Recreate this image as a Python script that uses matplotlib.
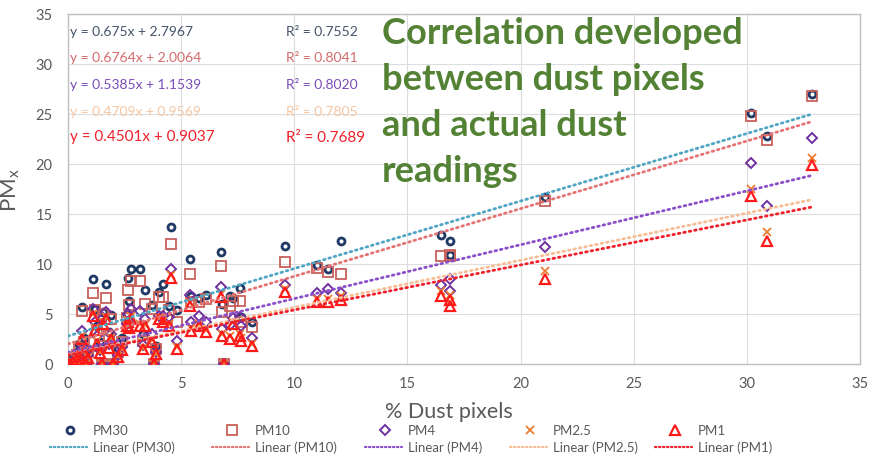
import matplotlib
matplotlib.use("Agg")
import matplotlib.pyplot as plt
from matplotlib.lines import Line2D
import numpy as np

plt.rcParams['font.family'] = ['Lato', 'DejaVu Sans']
plt.rcParams['mathtext.default'] = 'regular'

# ---- data: % dust pixels per image and matching PM readings ----
dust_pct = [0.0, 0.1, 0.3, 0.5, 0.8, 1.5, 2.0, 3.8, 6.9,
            0.2, 0.4, 0.5, 0.6, 0.7, 0.9, 1.1, 1.2, 1.3, 1.4, 1.55, 1.7, 1.8, 1.9,
            2.2, 2.4, 2.6, 2.65, 2.7, 2.8, 3.2, 3.3, 3.4, 3.7, 3.9, 4.0, 4.2, 4.45,
            4.57, 4.8, 5.4, 5.45, 5.8, 6.1, 6.75, 6.8, 7.15, 7.3, 7.6, 7.65, 8.15,
            9.6, 11.0, 11.5, 12.05, 16.5, 16.9, 16.9, 21.1, 30.2, 30.9, 32.9]
pm30 = [0, 0, 0, 0, 0, 0, 0, 0, 0,
        0.6, 1.2, 2.0, 5.7, 2.6, 1.5, 8.5, 5.5, 3.8, 2.2, 5.2, 8.0, 3.2, 4.9,
        1.5, 2.6, 5.0, 8.6, 6.3, 9.5, 9.5, 3.0, 7.4, 5.9, 1.8, 7.2, 8.0, 5.8,
        13.7, 5.4, 10.5, 6.8, 6.6, 6.9, 11.2, 6.0, 6.8, 6.6, 7.6, 4.7, 4.2,
        11.8, 9.9, 9.5, 12.3, 12.9, 12.3, 10.9, 16.7, 25.1, 22.8, 27.0]
pm10 = [0, 0, 0, 0, 0, 0, 0, 0, 0,
        0.4, 0.9, 1.6, 5.3, 2.2, 1.2, 7.1, 5.4, 3.4, 1.8, 5.0, 6.6, 2.8, 4.5,
        1.2, 2.2, 4.6, 7.4, 5.9, 8.3, 8.3, 2.3, 6.0, 5.5, 1.5, 6.7, 6.7, 5.4,
        12.0, 4.2, 9.0, 6.2, 6.2, 6.5, 9.8, 5.2, 5.8, 6.3, 6.3, 4.2, 3.7,
        10.2, 9.6, 9.2, 9.0, 10.8, 10.9, 10.8, 16.3, 24.8, 22.4, 26.8]
pm4 = [0, 0, 0, 0, 0, 0, 0, 0, 0,
       0.3, 0.7, 1.2, 3.3, 1.6, 0.9, 5.5, 4.2, 2.8, 1.4, 4.6, 5.2, 2.0, 3.0,
       0.9, 1.7, 4.0, 5.0, 4.3, 5.5, 5.3, 1.9, 4.5, 3.0, 1.2, 4.8, 4.8, 4.7,
       9.5, 2.3, 6.9, 4.2, 4.8, 4.2, 7.7, 3.5, 3.9, 4.6, 4.7, 3.8, 2.6,
       7.9, 7.1, 7.5, 7.1, 7.9, 8.5, 7.3, 11.7, 20.1, 15.8, 22.6]
pm25 = [0, 0, 0, 0, 0, 0, 0, 0, 0,
        0.2, 0.5, 1.0, 2.8, 1.3, 0.7, 5.0, 3.6, 2.3, 1.2, 4.2, 4.7, 1.8, 2.6,
        0.8, 1.5, 3.9, 4.4, 3.8, 4.8, 4.0, 1.6, 3.9, 2.4, 1.0, 4.6, 4.3, 4.0,
        8.9, 1.7, 6.2, 3.6, 4.0, 3.4, 7.0, 3.0, 2.8, 4.2, 3.0, 2.6, 2.0,
        7.5, 6.5, 6.5, 6.8, 7.3, 6.9, 6.2, 9.3, 17.5, 13.2, 20.6]
pm1 = [0, 0, 0, 0, 0, 0, 0, 0, 0,
       0.2, 0.4, 0.9, 2.5, 1.2, 0.6, 4.8, 3.4, 2.0, 1.1, 4.0, 4.5, 1.6, 2.5,
       0.7, 1.4, 3.8, 4.2, 3.6, 4.5, 3.8, 1.5, 3.8, 2.2, 1.0, 4.5, 4.2, 3.8,
       8.6, 1.5, 5.8, 3.3, 3.8, 3.2, 6.7, 2.8, 2.5, 4.0, 2.8, 2.3, 1.8,
       7.2, 6.2, 6.2, 6.4, 6.8, 6.4, 5.8, 8.5, 16.8, 12.3, 19.9]

series_names = ["PM30", "PM10", "PM4", "PM2.5", "PM1"]
series_values = [pm30, pm10, pm4, pm25, pm1]

# linear trendline coefficients and fit quality
slopes = [0.675, 0.6764, 0.5385, 0.4709, 0.4501]
intercepts = [2.7967, 2.0064, 1.1539, 0.9569, 0.9037]
r_squared = [0.7552, 0.8041, 0.8020, 0.7805, 0.7689]

axis_ticks = [0, 5, 10, 15, 20, 25, 30, 35]

title_lines = ["Correlation developed", "between dust pixels",
               "and actual dust", "readings"]

# ---- styling ----
marker_styles = [
    dict(marker='o', ms=5.0, mew=2.0, mec='#1F3864'),
    dict(marker='s', ms=7.0, mew=1.3, mec='#C9605C'),
    dict(marker='D', ms=5.5, mew=1.4, mec='#7030A0'),
    dict(marker='x', ms=6.0, mew=1.3, mec='#ED7D31'),
    dict(marker='^', ms=7.5, mew=1.6, mec='#FF1A1A'),
]
trend_colors = ['#4FA6C4', '#E57373', '#8A4FC8', '#F7BE96', '#F0202A']
label_colors = ['#44546A', '#D36B6B', '#7B4DB8', '#F6C6A2', '#F0202A']
label_sizes = [10, 10, 10, 10, 11]
text_gray = '#595959'

W, H = 872, 456
ax_left, ax_right, ax_top, ax_bottom = 68, 860, 15, 365
fig = plt.figure(figsize=(W / 100, H / 100), dpi=100)
ax = fig.add_axes([ax_left / W, (H - ax_bottom) / H,
                   (ax_right - ax_left) / W, (ax_bottom - ax_top) / H])


def fig_xy(px, py):
    return px / W, 1 - py / H


# scatter series
for vals, st in zip(series_values, marker_styles):
    ax.plot(dust_pct, vals, linestyle='none', mfc='none', zorder=3, **st)

# trendlines from the fitted coefficients
x_fit = np.array([0.0, max(dust_pct)])
for m, b, c in zip(slopes, intercepts, trend_colors):
    ax.plot(x_fit, m * x_fit + b, color=c, lw=2.0,
            linestyle=(0, (0.6, 1.4)), dash_capstyle='round', zorder=4)

ax.set_xlim(0, 35)
ax.set_ylim(0, 35)
ax.set_xticks(axis_ticks)
ax.set_yticks(axis_ticks)
ax.grid(True, color='#DDDDDD', lw=0.8)
ax.set_axisbelow(True)
for sp in ax.spines.values():
    sp.set_color('#BFBFBF')
    sp.set_linewidth(1.0)
ax.tick_params(axis='both', length=0, labelsize=10.5, labelcolor=text_gray)
ax.tick_params(axis='y', pad=11)
ax.tick_params(axis='x', pad=9)

ax.set_xlabel('% Dust pixels', fontsize=15.5, color=text_gray)
ax.xaxis.set_label_coords((449 - ax_left) / (ax_right - ax_left), -0.105)
ax.set_ylabel(r'PM$_\mathregular{x}$', fontsize=16, color=text_gray)
ax.yaxis.set_label_coords(-0.058, 0.5)

# trendline equations
eq_rows = [32.5, 58.5, 85.0, 111.5, 137.5]
for i in range(5):
    fig.text(*fig_xy(70, eq_rows[i]),
             f"y = {slopes[i]:g}x + {intercepts[i]:.4f}",
             color=label_colors[i], fontsize=label_sizes[i], va='center', ha='left')
    fig.text(*fig_xy(286, eq_rows[i]), f"R² = {r_squared[i]:.4f}",
             color=label_colors[i], fontsize=label_sizes[i], va='center', ha='left')

# annotation block, sized so the first line spans the intended width
renderer = fig.canvas.get_renderer()
probe = fig.text(0, 0, title_lines[0], fontsize=24, fontweight='bold')
w0 = probe.get_window_extent(renderer).width
probe.remove()
title_size = 24 * 360 / w0
baselines = [43.5, 90.0, 136.5, 182.5]
for line, yb in zip(title_lines, baselines):
    fig.text(*fig_xy(382, yb), line, fontsize=title_size, fontweight='bold',
             color='#548235', va='baseline', ha='left')

# legend: markers in the first row, trendline samples in the second
legend_x = [70, 232, 385, 530, 675]
for i, name in enumerate(series_names):
    mx = legend_x[i]
    st = dict(marker_styles[i])
    fig.add_artist(Line2D([mx / W], [1 - 431 / H], linestyle='none',
                          mfc='none', **st))
    fig.text(*fig_xy(mx + 23, 431), name, fontsize=9.5, color=text_gray,
             va='center', ha='left')
    fig.add_artist(Line2D([(mx - 20) / W, (mx + 17) / W], [1 - 448 / H] * 2,
                          color=trend_colors[i], lw=1.6,
                          linestyle=(0, (0.6, 1.2)), dash_capstyle='round'))
    fig.text(*fig_xy(mx + 23, 448), f"Linear ({name})", fontsize=9.5,
             color=text_gray, va='center', ha='left')

fig.savefig('out.png', dpi=100, facecolor='white')
